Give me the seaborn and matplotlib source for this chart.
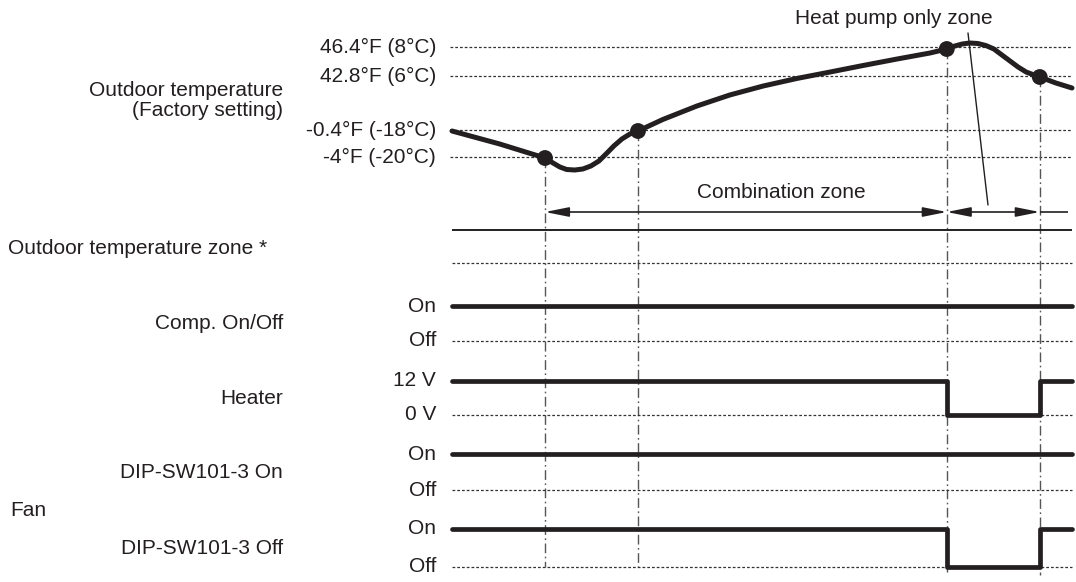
import numpy as np
import matplotlib
matplotlib.use("Agg")
import matplotlib.pyplot as plt
import seaborn as sns
import pandas as pd

sns.set_style("white")
plt.rcParams['font.family'] = ['Liberation Sans', 'DejaVu Sans']

# time axis: 0 = left edge of diagram, 100 = right edge
event_t = [15.0, 30.0, 79.8, 94.8]

# outdoor temperature curve (schematic row position)
curve_t = [0, 7.7, 15.0, 16.3, 17.4, 18.5, 19.8, 21.1, 22.4, 23.7, 25.0, 26.1,
           27.4, 28.7, 30.0, 34.0, 39.5, 44.8, 50.2, 55.6, 61.0, 66.3, 71.8,
           77.1, 79.8, 81.1, 82.3, 83.5, 84.8, 86.1, 87.4, 88.7, 90.0, 91.3,
           92.6, 93.9, 94.8, 97.4, 100]
curve_y = [131, 144, 158, 163, 167, 169.5, 170, 169, 166, 161, 153, 146,
           139, 134, 131, 119.5, 106, 95, 86, 78.5, 72, 65.5, 59,
           53, 49, 46, 44, 43, 43.5, 45.5, 49, 55, 61, 67,
           72, 75, 77, 83, 88]
dot_y = [158, 131, 49, 77]

temp_labels = ["46.4°F (8°C)", "42.8°F (6°C)", "-0.4°F (-18°C)", "-4°F (-20°C)"]
temp_rows = [47, 76, 130, 157]

# signal rows
sig_names = ["Comp. On/Off", "Heater", "DIP-SW101-3 On", "DIP-SW101-3 Off"]
sig_high = ["On", "12 V", "On", "On"]
sig_low = ["Off", "0 V", "Off", "Off"]
sig_high_y = [306, 381, 454, 529]
sig_low_y = [341, 415, 490, 567]
# state at each change point: 1 = high, 0 = low
sig_t = [0, 79.8, 94.8, 100]
sig_states = [
    [1, 1, 1, 1],
    [1, 0, 1, 1],
    [1, 1, 1, 1],
    [1, 0, 1, 1],
]

zone_line_y = 230
zone_dot_y = 263
arrow_y = 212

W, H = 1076, 582
X0, X1 = 452, 1072
scale = (X1 - X0) / 100.0

fig = plt.figure(figsize=(W / 100, H / 100), dpi=100)
ax = fig.add_axes([0, 0, 1, 1])
ax.set_xlim(-X0 / scale, (W - X0) / scale)
ax.set_ylim(H, 0)
ax.axis("off")

ink = "#231f20"
fs = 15.0
dot_style = dict(color="#333333", lw=0.9, ls=(0, (2.2, 1.6)))
dashdot = dict(color="#555555", lw=1.0, ls=(0, (7, 2.5, 1.2, 2.5)))

lab_x = -2.6                 # just left of the diagram
name_x = (283 - X0) / scale  # right edge of row names

# temperature reference lines
for lab, yy in zip(temp_labels, temp_rows):
    ax.hlines(yy, -0.3, 100, **dot_style)
    ax.text(lab_x, yy, lab, ha="right", va="center", fontsize=fs, color=ink)

ax.text(name_x, 90, "Outdoor temperature", ha="right", va="center", fontsize=fs, color=ink)
ax.text(name_x, 111, "(Factory setting)", ha="right", va="center", fontsize=fs, color=ink)

# event verticals
ax.vlines(event_t[:2], dot_y[:2], 567, **dashdot)
ax.vlines(event_t[2:], dot_y[2:], 575, **dashdot)

# curve
df = pd.DataFrame({"t": curve_t, "y": curve_y})
sns.lineplot(data=df, x="t", y="y", ax=ax, color=ink, lw=3.6, sort=False,
             solid_capstyle="round", solid_joinstyle="round")
ax.scatter(event_t, dot_y, s=130, color=ink, zorder=5, edgecolor="none")

# heat pump zone label + leader
ax.text((894 - X0) / scale, 18, "Heat pump only zone", ha="center", va="center",
        fontsize=fs, color=ink)
ax.plot([(968 - X0) / scale, (988 - X0) / scale], [33, 205], color=ink, lw=1.0)

# zone arrows
arr = dict(arrowstyle="<|-|>,head_length=0.9,head_width=0.18", color=ink, lw=1.2,
           mutation_scale=16, shrinkA=0, shrinkB=0)
ax.annotate("", xy=(event_t[0], arrow_y), xytext=(event_t[2], arrow_y), arrowprops=arr)
ax.annotate("", xy=(event_t[2], arrow_y), xytext=(event_t[3], arrow_y), arrowprops=arr)
ax.hlines(arrow_y, event_t[3], 99.3, color=ink, lw=1.2)
ax.text((781 - X0) / scale, 193, "Combination zone", ha="center", va="center",
        fontsize=fs, color=ink)

# outdoor temperature zone row
ax.hlines(zone_line_y, 0, 100, color=ink, lw=1.4)
ax.hlines(zone_dot_y, 0, 100, **dot_style)
ax.text((8 - X0) / scale, 248, "Outdoor temperature zone *", ha="left", va="center",
        fontsize=fs, color=ink)

# signals
for name, hl, ll, hy, ly, st in zip(sig_names, sig_high, sig_low, sig_high_y,
                                    sig_low_y, sig_states):
    ax.hlines(ly, 0, 100, **dot_style)
    yv = [hy if s else ly for s in st]
    sdf = pd.DataFrame({"t": sig_t, "v": yv})
    sns.lineplot(data=sdf, x="t", y="v", ax=ax, color=ink, lw=3.4,
                 drawstyle="steps-post", solid_capstyle="round")
    ax.text(lab_x, hy, hl, ha="right", va="center", fontsize=fs, color=ink)
    ax.text(lab_x, ly, ll, ha="right", va="center", fontsize=fs, color=ink)
    ax.text(name_x, (hy + ly) / 2, name, ha="right", va="center", fontsize=fs, color=ink)

ax.text((10 - X0) / scale, 510, "Fan", ha="left", va="center", fontsize=fs, color=ink)

ax.set_xlabel("")
ax.set_ylabel("")
fig.savefig("out.png", dpi=100)
